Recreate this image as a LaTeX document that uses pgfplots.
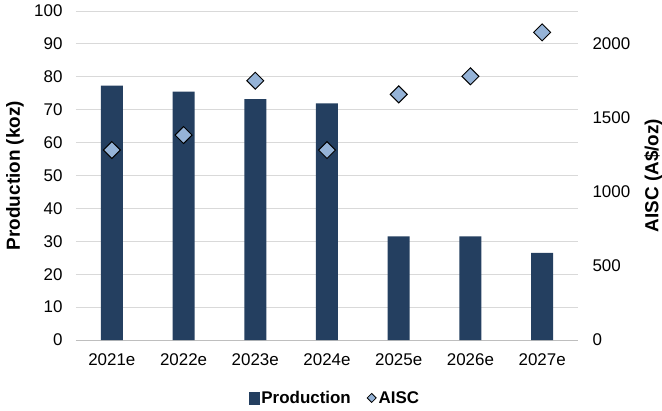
\documentclass[border=0pt]{standalone}
\usepackage{fontspec}
\setmainfont{Liberation Sans}
\usepackage{pgfplots}
\usepackage{pgfplotstable}
\pgfplotsset{compat=1.18}

\definecolor{prodnavy}{HTML}{243F60}
\definecolor{aiscblue}{HTML}{95B3D7}
\definecolor{gridgray}{HTML}{D9D9D9}

% Production (koz) and AISC (A$/oz) by year
\pgfplotstableread{
x prod aisc
0 77.3 1280
1 75.5 1381
2 73.2 1747
3 71.9 1280
4 31.5 1655
5 31.5 1777
6 26.5 2073
}\datatable

\begin{document}
\begin{tikzpicture}
\path[use as bounding box] (-76bp,-71bp) rectangle (586bp,340bp);
\pgfplotsset{
  every axis/.append style={
    width=502bp, height=329bp, scale only axis,
    xmin=-0.5, xmax=6.5, ymin=0,
    /pgf/number format/assume math mode=true,
    /pgf/number format/1000 sep={},
    tick label style={font=\fontsize{17}{20}\selectfont},
    label style={font=\bfseries\fontsize{19}{22}\selectfont},
    major tick length=0pt,
  }
}
% left axis: production bars
\begin{axis}[
  axis x line*=bottom, axis y line*=left,
  x axis line style={draw=gridgray!70!gray, line width=0.9pt},
  y axis line style={draw=none},
  ymax=100, ytick={0,10,...,100},
  ymajorgrids, grid style={gridgray, line width=0.9pt},
  xtick=data,
  xticklabels={2021e,2022e,2023e,2024e,2025e,2026e,2027e},
  xticklabel style={yshift=-10bp},
  yticklabel style={xshift=-10bp},
  ylabel={Production (koz)},
  ylabel style={at={(axis description cs:-0.1215,0.5)}, anchor=center},
]
\addplot[ybar, bar width=22bp, fill=prodnavy, draw=none] table[x=x,y=prod]{\datatable};
\end{axis}
% right axis: AISC diamonds
\begin{axis}[
  axis y line*=right, axis x line=none,
  y axis line style={draw=none},
  ymax=2217, ytick={0,500,...,2000},
  xtick=\empty,
  yticklabel style={xshift=11bp},
  ylabel={AISC (A\$/oz)},
  ylabel style={at={(axis description cs:1.15,0.5)}, anchor=center, rotate=0},
  legend style={at={(axis description cs:0.516,-0.176)}, anchor=center,
    draw=none, fill=none, font=\bfseries\fontsize{17}{20}\selectfont,
    /tikz/every even column/.append style={column sep=14bp}},
  legend columns=2,
]
\addlegendimage{legend image code/.code={\fill[prodnavy] (1bp,-6bp) rectangle (11bp,6bp);}}
\addlegendentry{Production}
\addplot[only marks, mark=square*, mark size=6bp,
  mark options={rotate=45, fill=aiscblue, draw=black, line width=1pt},
  legend image code/.code={\draw[fill=aiscblue, draw=black, line width=0.8pt] (0bp,0bp)--(4.5bp,4.5bp)--(9bp,0bp)--(4.5bp,-4.5bp)--cycle;}]
  table[x=x,y=aisc]{\datatable};
\addlegendentry{AISC}
\end{axis}
\end{tikzpicture}
\end{document}
